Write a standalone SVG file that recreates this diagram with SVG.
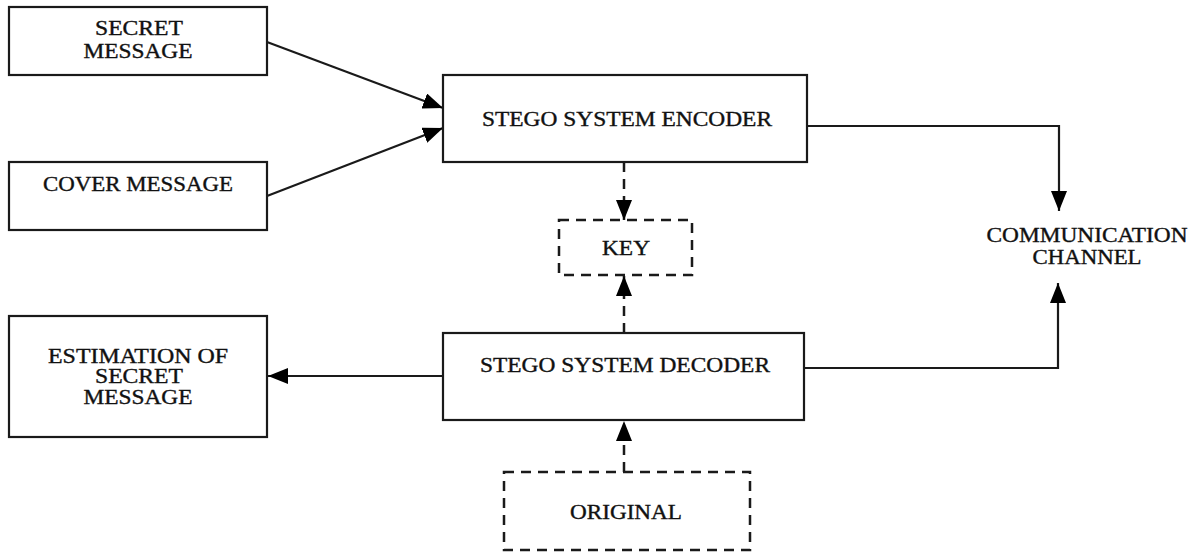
<svg xmlns="http://www.w3.org/2000/svg" width="1195" height="556" viewBox="0 0 1195 556">
<style>
.box{fill:#fff;stroke:#1a1a1a;stroke-width:2.2}
.dbox{fill:#fff;stroke:#1a1a1a;stroke-width:2.5;stroke-dasharray:10 7}
.t{font-family:"Liberation Serif","Times New Roman",serif;font-size:20px;fill:#111;stroke:#111;stroke-width:0.35;text-anchor:middle}
.c{fill:none;stroke:#1a1a1a;stroke-width:2.2}
.d{fill:none;stroke:#1a1a1a;stroke-width:2.5;stroke-dasharray:10 7}
</style>
<defs>
<marker id="ah" viewBox="0 0 20 16" refX="20" refY="8" markerWidth="20" markerHeight="16" markerUnits="userSpaceOnUse" orient="auto">
<path d="M0,0 L20,8 L0,16 Z" fill="#000"/>
</marker>
</defs>
<rect width="1195" height="556" fill="#fff"/>
<g id="connectors">
<line class="c" x1="267" y1="42" x2="443" y2="108" marker-end="url(#ah)"/>
<line class="c" x1="267" y1="196" x2="443" y2="128" marker-end="url(#ah)"/>
<polyline class="c" points="807,126 1059,126 1059,211" marker-end="url(#ah)"/>
<polyline class="c" points="804,368 1058,368 1058,283" marker-end="url(#ah)"/>
<line class="c" x1="443" y1="376" x2="268" y2="376" marker-end="url(#ah)"/>
<line class="d" x1="624" y1="162" x2="624" y2="220" marker-end="url(#ah)"/>
<line class="d" x1="624" y1="333" x2="624" y2="276" marker-end="url(#ah)"/>
<line class="d" x1="624" y1="472" x2="624" y2="421" marker-end="url(#ah)"/>
</g>
<g id="secret">
<rect class="box" x="9" y="7" width="258" height="68"/>
<text class="t" x="139" y="35" textLength="88" lengthAdjust="spacingAndGlyphs">SECRET</text>
<text class="t" x="138" y="58" textLength="109" lengthAdjust="spacingAndGlyphs">MESSAGE</text>
</g>
<g id="cover">
<rect class="box" x="9" y="162" width="258" height="68"/>
<text class="t" x="138" y="191" textLength="190" lengthAdjust="spacingAndGlyphs">COVER MESSAGE</text>
</g>
<g id="encoder">
<rect class="box" x="443" y="75" width="364" height="87"/>
<text class="t" x="627" y="126" textLength="290" lengthAdjust="spacingAndGlyphs">STEGO SYSTEM ENCODER</text>
</g>
<g id="key">
<rect class="dbox" x="559" y="220" width="133" height="55"/>
<text class="t" x="626" y="255" textLength="48" lengthAdjust="spacingAndGlyphs">KEY</text>
</g>
<g id="channel">
<text class="t" x="1087" y="242" textLength="201" lengthAdjust="spacingAndGlyphs">COMMUNICATION</text>
<text class="t" x="1087" y="264" textLength="109" lengthAdjust="spacingAndGlyphs">CHANNEL</text>
</g>
<g id="decoder">
<rect class="box" x="443" y="333" width="361" height="87"/>
<text class="t" x="625" y="372" textLength="290" lengthAdjust="spacingAndGlyphs">STEGO SYSTEM DECODER</text>
</g>
<g id="estimation">
<rect class="box" x="9" y="316" width="258" height="121"/>
<text class="t" x="138" y="363" textLength="180" lengthAdjust="spacingAndGlyphs">ESTIMATION OF</text>
<text class="t" x="139" y="383" textLength="88" lengthAdjust="spacingAndGlyphs">SECRET</text>
<text class="t" x="138" y="404" textLength="109" lengthAdjust="spacingAndGlyphs">MESSAGE</text>
</g>
<g id="original">
<rect class="dbox" x="504" y="472" width="246" height="78"/>
<text class="t" x="626" y="519" textLength="112" lengthAdjust="spacingAndGlyphs">ORIGINAL</text>
</g>
</svg>
